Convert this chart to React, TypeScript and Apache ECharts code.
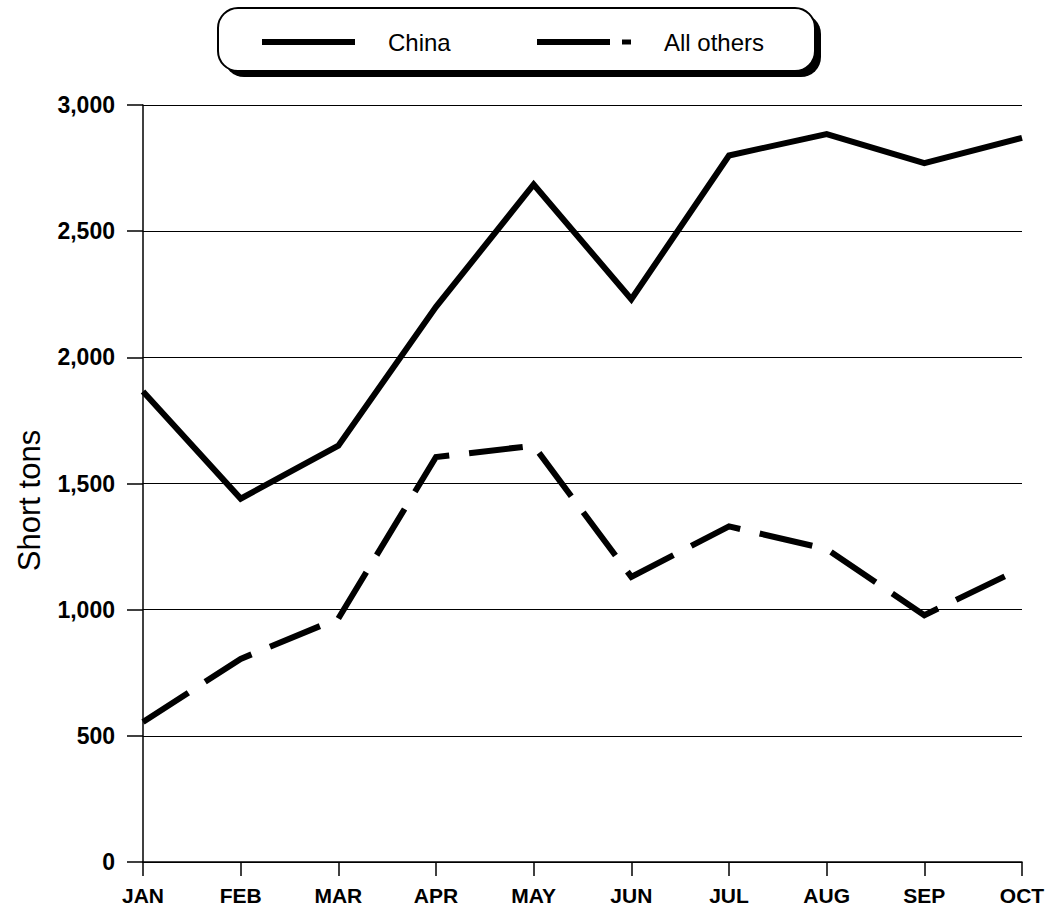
import React, { useEffect, useRef } from "react";
import * as echarts from "echarts";

const months = ["JAN", "FEB", "MAR", "APR", "MAY", "JUN", "JUL", "AUG", "SEP", "OCT"];
const china = [1865, 1440, 1650, 2200, 2685, 2230, 2800, 2885, 2770, 2870];
const allOthers = [555, 805, 965, 1605, 1650, 1130, 1330, 1240, 978, 1165];
const seriesNames = ["China", "All others"];
const yTicks = { min: 0, max: 3000, interval: 500 };

const FONT = "'Liberation Sans', Arial, Helvetica, sans-serif";

export default function App() {
  const ref = useRef<HTMLDivElement>(null);
  useEffect(() => {
    if (!ref.current) return;
    const chart = echarts.init(ref.current, undefined, { renderer: "svg" });
    const legendText = (text: string, x: number) => ({
      type: "text",
      z: 10,
      x,
      y: 42,
      style: {
        text,
        fontFamily: FONT,
        fontSize: 24,
        fill: "#000",
        align: "left",
        verticalAlign: "middle",
      },
    });
    chart.setOption({
      animation: false,
      backgroundColor: "#ffffff",
      graphic: [
        {
          type: "rect",
          z: 0,
          shape: { x: 224, y: 14, width: 597, height: 63, r: 20 },
          style: { fill: "#000" },
        },
        {
          type: "rect",
          z: 1,
          shape: { x: 218, y: 8, width: 597, height: 63, r: 20 },
          style: { fill: "#fff", stroke: "#000", lineWidth: 2 },
        },
        {
          type: "line",
          z: 10,
          shape: { x1: 262, y1: 42, x2: 355, y2: 42 },
          style: { stroke: "#000", lineWidth: 6 },
        },
        legendText(seriesNames[0], 388),
        {
          type: "line",
          z: 10,
          shape: { x1: 537, y1: 42, x2: 610, y2: 42 },
          style: { stroke: "#000", lineWidth: 6 },
        },
        {
          type: "line",
          z: 10,
          shape: { x1: 622, y1: 42, x2: 631, y2: 42 },
          style: { stroke: "#000", lineWidth: 5 },
        },
        legendText(seriesNames[1], 664),
      ],
      grid: { left: 143, right: 28, top: 105, bottom: 52, containLabel: false },
      xAxis: {
        type: "category",
        data: months,
        boundaryGap: false,
        axisLine: { show: true, lineStyle: { color: "#000", width: 1.5 } },
        axisTick: { show: true, length: 14, lineStyle: { color: "#000", width: 1.5 } },
        axisLabel: {
          color: "#000",
          fontFamily: FONT,
          fontSize: 21,
          fontWeight: "bold",
          margin: 23,
        },
        splitLine: { show: false },
      },
      yAxis: {
        type: "value",
        min: yTicks.min,
        max: yTicks.max,
        interval: yTicks.interval,
        name: "Short tons",
        nameLocation: "middle",
        nameGap: 98,
        nameTextStyle: {
          fontFamily: FONT,
          fontSize: 31,
          color: "#000",
          padding: [0, 34, 0, 0],
        },
        axisLine: { show: true, lineStyle: { color: "#000", width: 1.5 } },
        axisTick: { show: true, length: 16, lineStyle: { color: "#000", width: 1.5 } },
        axisLabel: {
          color: "#000",
          fontFamily: FONT,
          fontSize: 23,
          fontWeight: "bold",
          margin: 28,
          formatter: (v: number) => v.toLocaleString("en-US"),
        },
        splitLine: { show: true, lineStyle: { color: "#000", width: 1.2 } },
      },
      series: [
        {
          name: seriesNames[0],
          type: "line",
          data: china,
          symbol: "none",
          lineStyle: { color: "#000", width: 6, cap: "butt", join: "miter" },
          itemStyle: { color: "#000" },
          z: 3,
        },
        {
          name: seriesNames[1],
          type: "line",
          data: allOthers,
          symbol: "none",
          lineStyle: { color: "#000", width: 6, type: [54, 20], cap: "butt", join: "miter" },
          itemStyle: { color: "#000" },
          z: 3,
        },
      ],
    });
    return () => chart.dispose();
  }, []);
  return <div ref={ref} style={{ width: 1050, height: 914, position: "absolute", left: 0, top: 0 }} />;
}
